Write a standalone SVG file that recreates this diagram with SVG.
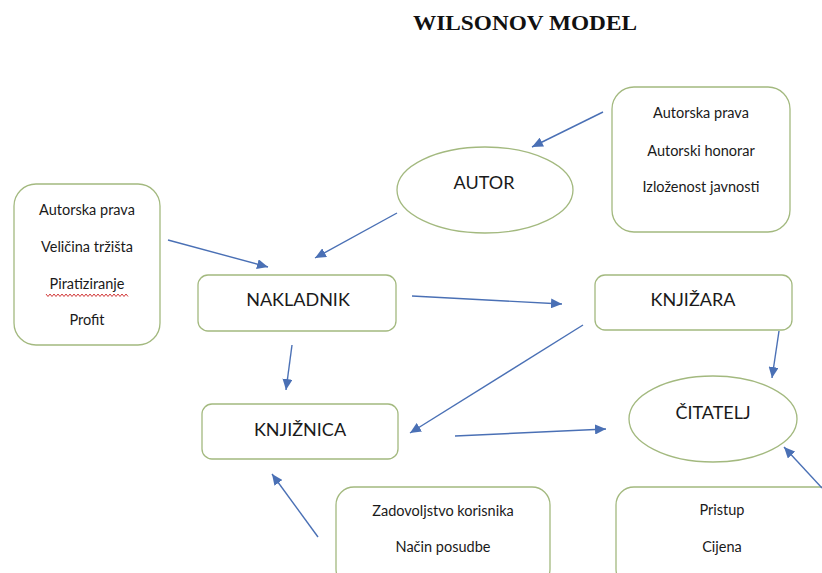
<svg xmlns="http://www.w3.org/2000/svg" width="822" height="573" viewBox="0 0 822 573">
<defs>
<style>
.box{fill:#fff;stroke:#a3b97f;stroke-width:1.3}
.t{font-family:Lato,"Open Sans","Liberation Sans",sans-serif;fill:#1a1a1a;text-anchor:middle}
.s{font-size:14.5px}
.m{font-size:18px}
.c{stroke:#4a70b5;stroke-width:1.4;fill:none;marker-end:url(#ah)}
</style>
<marker id="ah" markerUnits="userSpaceOnUse" markerWidth="12" markerHeight="10" refX="11" refY="5" orient="auto">
<path d="M0,0 L11,5 L0,10 Z" fill="#4a70b5"/>
</marker>
</defs>
<rect width="822" height="573" fill="#fff"/>
<text x="525" y="30" font-family="'Liberation Serif',serif" font-weight="bold" font-size="20" text-anchor="middle" fill="#111" textLength="224" lengthAdjust="spacingAndGlyphs">WILSONOV MODEL</text>

<g id="autor-factors">
<rect class="box" x="612" y="87" width="178" height="145" rx="22"/>
<text class="t s" x="701" y="118">Autorska prava</text>
<text class="t s" x="701" y="156">Autorski honorar</text>
<text class="t s" x="701" y="192">Izloženost javnosti</text>
</g>
<g id="autor">
<ellipse class="box" cx="485" cy="190" rx="88" ry="43"/>
<text class="t m" x="484" y="189">AUTOR</text>
</g>
<g id="nakladnik-factors">
<rect class="box" x="14" y="184" width="146" height="161" rx="22"/>
<text class="t s" x="87" y="215">Autorska prava</text>
<text class="t s" x="87" y="252">Veličina tržišta</text>
<text class="t s" x="87" y="289">Piratiziranje</text>
<path d="M46,294 l2,2.5 l2,-2.5 l2,2.5 l2,-2.5 l2,2.5 l2,-2.5 l2,2.5 l2,-2.5 l2,2.5 l2,-2.5 l2,2.5 l2,-2.5 l2,2.5 l2,-2.5 l2,2.5 l2,-2.5 l2,2.5 l2,-2.5 l2,2.5 l2,-2.5 l2,2.5 l2,-2.5 l2,2.5 l2,-2.5 l2,2.5 l2,-2.5 l2,2.5 l2,-2.5 l2,2.5 l2,-2.5 l2,2.5 l2,-2.5 l2,2.5 l2,-2.5 l2,2.5 l2,-2.5 l2,2.5 l2,-2.5 l2,2.5 l2,-2.5 l2,2.5" fill="none" stroke="#d23a3a" stroke-width="1"/>
<text class="t s" x="87" y="325">Profit</text>
</g>
<g id="nakladnik">
<rect class="box" x="198" y="275" width="198" height="56" rx="10"/>
<text class="t m" x="298" y="306">NAKLADNIK</text>
</g>
<g id="knjizara">
<rect class="box" x="595" y="275" width="197" height="55" rx="10"/>
<text class="t m" x="693" y="306">KNJIŽARA</text>
</g>
<g id="knjiznica">
<rect class="box" x="202" y="404" width="196" height="55" rx="10"/>
<text class="t m" x="300" y="436">KNJIŽNICA</text>
</g>
<g id="citatelj">
<ellipse class="box" cx="713" cy="419" rx="84" ry="43"/>
<text class="t m" x="713" y="419">ČITATELJ</text>
</g>
<g id="knjiznica-factors">
<rect class="box" x="336" y="487" width="214" height="100" rx="18"/>
<text class="t s" x="443" y="516">Zadovoljstvo korisnika</text>
<text class="t s" x="443" y="552">Način posudbe</text>
</g>
<g id="citatelj-factors">
<rect class="box" x="616" y="487" width="230" height="100" rx="18"/>
<text class="t s" x="722" y="515">Pristup</text>
<text class="t s" x="722" y="552">Cijena</text>
</g>

<g id="connectors">
<line class="c" x1="603" y1="112" x2="532" y2="147"/>
<line class="c" x1="397" y1="213" x2="315" y2="258"/>
<line class="c" x1="168" y1="240" x2="268" y2="267"/>
<line class="c" x1="412" y1="296" x2="562" y2="304"/>
<line class="c" x1="292" y1="345" x2="286" y2="390"/>
<line class="c" x1="583" y1="325" x2="410" y2="433"/>
<line class="c" x1="779" y1="331" x2="772" y2="378"/>
<line class="c" x1="455" y1="436" x2="606" y2="429"/>
<line class="c" x1="318" y1="537" x2="272" y2="474"/>
<line class="c" x1="822" y1="488" x2="784" y2="447"/>
</g>
</svg>
